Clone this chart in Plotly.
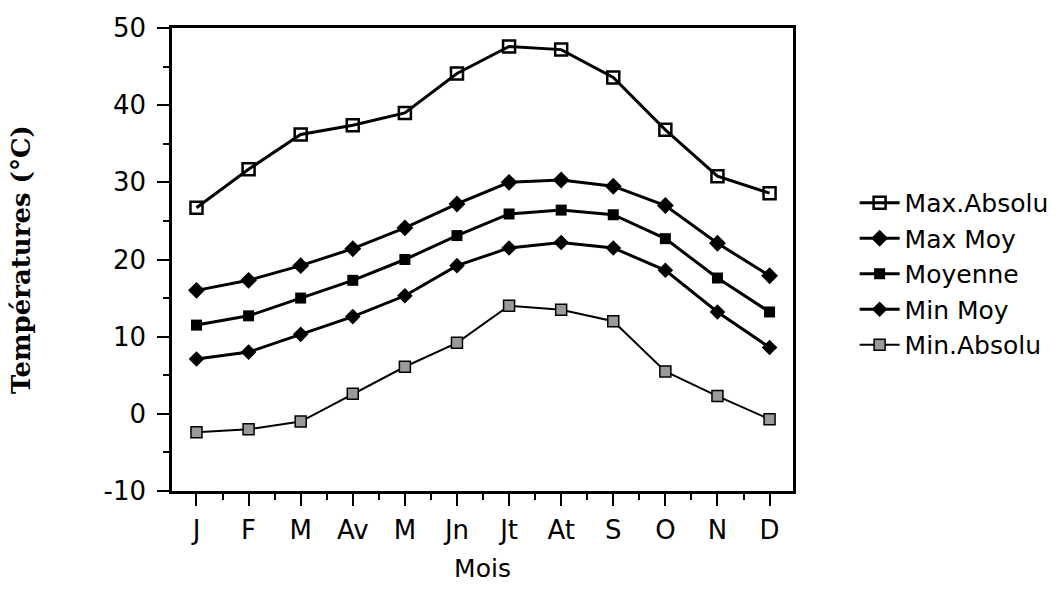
import plotly.graph_objects as go

months = ["J", "F", "M", "Av", "M", "Jn", "Jt", "At", "S", "O", "N", "D"]
x_idx = list(range(len(months)))

max_absolu = [26.7, 31.7, 36.2, 37.4, 39.0, 44.1, 47.6, 47.2, 43.6, 36.8, 30.8, 28.6]
max_moy    = [16.0, 17.3, 19.2, 21.4, 24.1, 27.2, 30.0, 30.3, 29.5, 27.0, 22.1, 17.9]
moyenne    = [11.5, 12.7, 15.0, 17.3, 20.0, 23.1, 25.9, 26.4, 25.8, 22.7, 17.6, 13.2]
min_moy    = [7.1, 8.0, 10.3, 12.6, 15.3, 19.2, 21.5, 22.2, 21.5, 18.6, 13.2, 8.6]
min_absolu = [-2.4, -2.0, -1.0, 2.6, 6.1, 9.2, 14.0, 13.5, 12.0, 5.5, 2.3, -0.7]

y_ticks = [-10, 0, 10, 20, 30, 40, 50]
y_ticktext = [str(v) for v in y_ticks]

sans = "DejaVu Sans, Verdana, sans-serif"
tick_font = dict(family=sans, size=26, color="black")

fig = go.Figure()
fig.add_trace(go.Scatter(
    x=x_idx, y=max_absolu, name="Max.Absolu", mode="lines+markers",
    line=dict(color="black", width=3),
    marker=dict(symbol="square-open", size=12, color="black", line=dict(width=2.5, color="black"))))
fig.add_trace(go.Scatter(
    x=x_idx, y=max_moy, name="Max Moy", mode="lines+markers",
    line=dict(color="black", width=3),
    marker=dict(symbol="diamond", size=13, color="black")))
fig.add_trace(go.Scatter(
    x=x_idx, y=moyenne, name="Moyenne", mode="lines+markers",
    line=dict(color="black", width=3),
    marker=dict(symbol="square", size=11, color="black")))
fig.add_trace(go.Scatter(
    x=x_idx, y=min_moy, name="Min Moy", mode="lines+markers",
    line=dict(color="black", width=3),
    marker=dict(symbol="diamond", size=12, color="black")))
fig.add_trace(go.Scatter(
    x=x_idx, y=min_absolu, name="Min.Absolu", mode="lines+markers",
    line=dict(color="black", width=2),
    marker=dict(symbol="square", size=11, color="#9a9a9a", line=dict(width=1.5, color="black"))))

fig.update_layout(
    width=1059, height=590,
    margin=dict(l=172, r=266, t=28, b=96),
    paper_bgcolor="white", plot_bgcolor="white",
    font=tick_font,
    showlegend=True,
    legend=dict(xref="container", yref="container", x=0.807, y=0.695,
                xanchor="left", yanchor="top",
                font=dict(family=sans, size=25, color="black"),
                tracegroupgap=0, bgcolor="rgba(0,0,0,0)", itemwidth=40),
)

fig.update_xaxes(
    range=[-0.47, 11.45],
    tickmode="array", tickvals=x_idx, ticktext=months,
    ticks="outside", ticklen=12, tickwidth=2, tickcolor="black",
    minor=dict(tickvals=[i + 0.5 for i in x_idx], ticks="outside", ticklen=6, tickwidth=2, tickcolor="black"),
    showline=True, linewidth=2.5, linecolor="black", mirror=True,
    showgrid=False, zeroline=False,
    tickfont=tick_font, ticklabelstandoff=2,
    title=dict(text="Mois", font=dict(family=sans, size=25, color="black"), standoff=16),
)
fig.update_yaxes(
    range=[-10, 50], tickmode="array", tickvals=y_ticks, ticktext=y_ticktext,
    ticks="outside", ticklen=12, tickwidth=2, tickcolor="black",
    minor=dict(dtick=5, tick0=0, ticks="outside", ticklen=6, tickwidth=2, tickcolor="black"),
    showline=True, linewidth=2.5, linecolor="black", mirror=True,
    showgrid=False, zeroline=False,
    tickfont=tick_font, ticklabelstandoff=6,
    title=dict(text="Températures (°C)",
               font=dict(family="DejaVu Serif, Liberation Serif, serif", size=26, color="black", weight="bold"),
               standoff=66),
)

fig.write_html("out.html")
